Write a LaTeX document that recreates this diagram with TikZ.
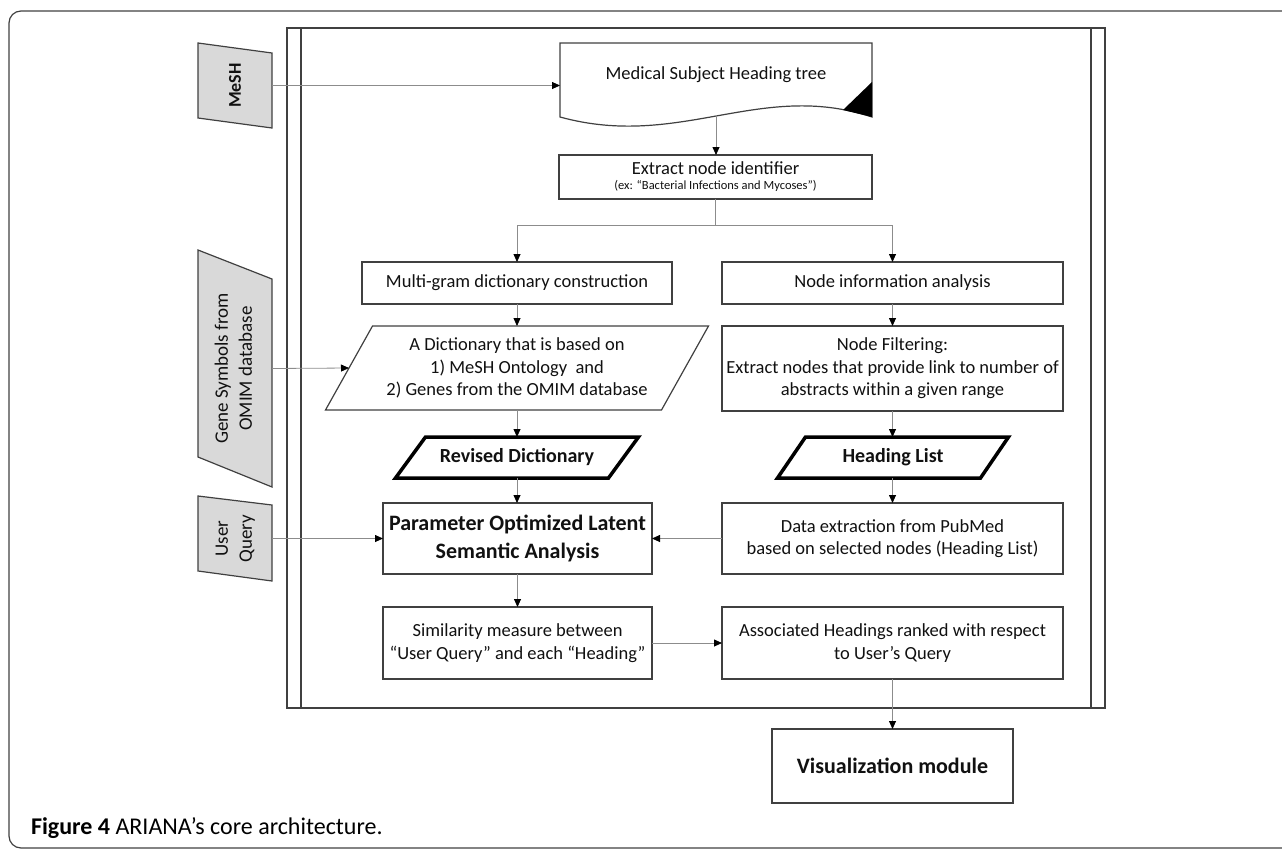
\documentclass[tikz,border=0pt]{standalone}
\usepackage{fontspec}
\setmainfont{Carlito}
\usetikzlibrary{arrows.meta,calc}
\definecolor{lc}{HTML}{404040}
\definecolor{cc}{HTML}{8C8C8C}
\definecolor{gf}{HTML}{D9D9D9}
\definecolor{tc}{HTML}{111111}
\tikzset{
  base/.style={inner sep=0pt,outer sep=0pt,text=tc,align=center},
  txt/.style={base,font=\fontsize{18.5}{22.5}\selectfont},
  boxn/.style={txt,draw=lc,line width=1.2pt,fill=white},
  bbox/.style={boxn,font=\fontsize{22}{28}\selectfont\bfseries},
  shp/.style={base,draw=none},
  outl/.style={draw=lc,line width=1.2pt},
  gshape/.style={fill=gf,draw=lc,line width=1.2pt},
  thickpar/.style={fill=white,draw=black,line width=3.5pt},
  conn/.style={draw=cc,line width=0.8pt,-{Triangle[length=8pt,width=7pt,color=black]}},
  vlabel/.style={base,font=\fontsize{19}{24}\selectfont},
}
\begin{document}
\begin{tikzpicture}[x=1pt,y=-1pt]
\useasboundingbox (0,0) rectangle (1282,849);
% outer frame
\draw[outl,rounded corners=12pt] (1282,11) -- (9,11) -- (9,848) -- (1282,848);
% process frame
\draw[outl] (287,28) rectangle (1105,708);
\draw[outl] (301,28) -- (301,708);
\draw[outl] (1091,28) -- (1091,708);

% left inputs
\node[shp,minimum width=74pt,minimum height=85pt] (mesh) at (235,85.5) {};
\draw[gshape] (mesh.north west) -- ($(mesh.north east)+(0,10)$) -- (mesh.south east) -- ($(mesh.south west)+(0,-10)$) -- cycle;
\node[vlabel,font=\fontsize{18}{22}\selectfont\bfseries] (meshtxt) at (mesh.center) {\rotatebox{90}{MeSH}};

\node[shp,minimum width=74pt,minimum height=237pt] (gene) at (235,368.5) {};
\draw[gshape] (gene.north west) -- ($(gene.north east)+(0,29)$) -- (gene.south east) -- ($(gene.south west)+(0,-30)$) -- cycle;
\node[vlabel] (genetxt) at (gene.center) {\rotatebox{90}{\begin{tabular}{@{}c@{}}Gene Symbols from\\OMIM database\end{tabular}}};

\node[shp,minimum width=74pt,minimum height=85pt] (user) at (235,538.5) {};
\draw[gshape] (user.north west) -- ($(user.north east)+(0,9)$) -- (user.south east) -- ($(user.south west)+(0,-10)$) -- cycle;
\node[vlabel] (usertxt) at (user.center) {\rotatebox{90}{\begin{tabular}{@{}c@{}}User\\Query\end{tabular}}};

% MeSH tree document
\node[shp,minimum width=312pt,minimum height=74pt] (doc) at (716,80) {};
\draw[outl,fill=white] (doc.south west) -- (doc.north west) -- (doc.north east) -- (doc.south east)
  .. controls (760,80) and (680,150) .. (doc.south west) -- cycle;
\fill[black] (843,110) -- (872,82) -- (872,117) -- cycle;
\node[txt] (doctxt) at (716,75) {Medical Subject Heading tree};
\coordinate (docb) at (716,115);

\node[boxn,minimum width=313pt,minimum height=44pt] (extract) at (715.5,177) {Extract node identifier\\[-7.5pt]{\fontsize{12.5}{14}\selectfont (ex: “Bacterial Infections and Mycoses”)}};

\node[boxn,minimum width=310pt,minimum height=42pt] (multi) at (517,283) {Multi-gram dictionary construction};
\node[boxn,minimum width=341pt,minimum height=42pt] (nodeinfo) at (892.5,283) {Node information analysis};

% dictionary parallelogram
\node[shp,minimum width=336pt,minimum height=84pt] (dict) at (517,368) {};
\draw[outl,fill=white] ($(dict.south west)+(-23.5,0)$) -- ($(dict.north west)+(23.5,0)$) -- ($(dict.north east)+(23.5,0)$) -- ($(dict.south east)+(-23.5,0)$) -- cycle;
\node[txt] (dicttxt) at (dict.center) {A Dictionary that is based on\\1) MeSH Ontology\ \ and\\2) Genes from the OMIM database};

\node[boxn,minimum width=341pt,minimum height=85pt] (nodefilt) at (892.5,368.5) {Node Filtering:\\Extract nodes that provide link to number of\\abstracts within a given range};

% thick parallelograms
\node[shp,minimum width=213pt,minimum height=41pt] (revised) at (517,457.5) {};
\draw[thickpar] ($(revised.south west)+(-15,0)$) -- ($(revised.north west)+(15,0)$) -- ($(revised.north east)+(15,0)$) -- ($(revised.south east)+(-15,0)$) -- cycle;
\node[txt,font=\fontsize{20}{24}\selectfont\bfseries] (revisedtxt) at (revised.center) {Revised Dictionary};

\node[shp,minimum width=203pt,minimum height=41pt] (heading) at (893,457.5) {};
\draw[thickpar] ($(heading.south west)+(-14,0)$) -- ($(heading.north west)+(14,0)$) -- ($(heading.north east)+(14,0)$) -- ($(heading.south east)+(-14,0)$) -- cycle;
\node[txt,font=\fontsize{20}{24}\selectfont\bfseries] (headingtxt) at (heading.center) {Heading List};

\node[bbox,minimum width=269pt,minimum height=71pt] (polsa) at (517.5,538.5) {Parameter Optimized Latent\\Semantic Analysis};
\node[boxn,minimum width=341pt,minimum height=71pt] (dataext) at (892.5,538.5) {Data extraction from PubMed\\based on selected nodes (Heading List)};
\node[boxn,minimum width=269pt,minimum height=72pt] (sim) at (517.5,643) {Similarity measure between\\“User Query” and each “Heading”};
\node[boxn,minimum width=341pt,minimum height=72pt] (assoc) at (892.5,643) {Associated Headings ranked with respect\\to User’s Query};
\node[bbox,minimum width=241pt,minimum height=74pt] (vis) at (892.5,766) {Visualization module};

% connectors
\draw[conn] (mesh.east) -- (mesh.east -| doc.west);
\draw[conn] (docb) -- (docb |- extract.north);
\coordinate (br) at ($(extract.south)+(0,26)$);
\draw[conn] (extract.south) -- (br) -| (multi.north);
\draw[conn] (br) -| (nodeinfo.north);
\draw[conn] (multi.south) -- (dict.north);
\draw[conn] (gene.east) -- (dict.west);
\draw[conn] (dict.south) -- (revised.north);
\draw[conn] (revised.south) -- (revised.south |- polsa.north);
\draw[conn] (user.east) -- (polsa.west);
\draw[conn] (nodeinfo.south) -- (nodefilt.north);
\draw[conn] (nodefilt.south) -- (nodefilt.south |- heading.north);
\draw[conn] (nodefilt.south |- heading.south) -- (dataext.north);
\draw[conn] (dataext.west) -- (polsa.east);
\draw[conn] (polsa.south) -- (sim.north);
\draw[conn] (sim.east) -- (assoc.west);
\draw[conn] (assoc.south) -- (vis.north);

% caption
\node[base,anchor=base west,font=\fontsize{24}{28}\selectfont,text=black] (caption) at (31,834) {\textbf{Figure 4} ARIANA’s core architecture.};
\end{tikzpicture}
\end{document}
